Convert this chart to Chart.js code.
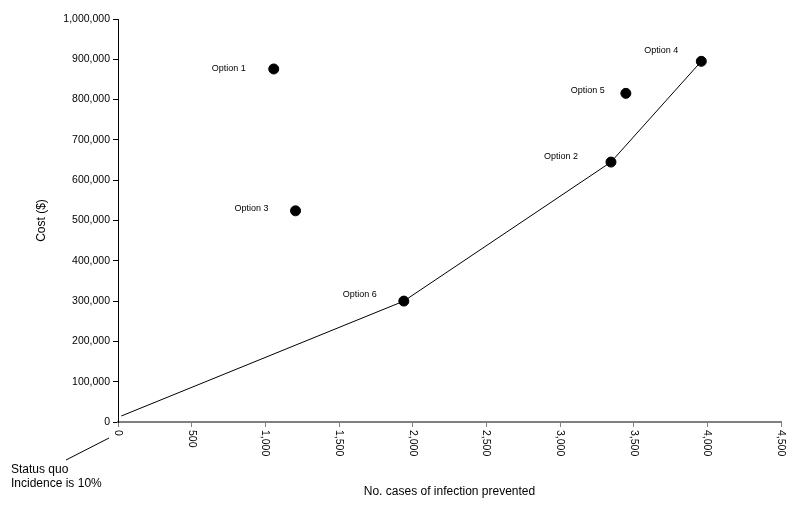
<!DOCTYPE html>
<html>
<head>
<meta charset="utf-8">
<script src="https://cdn.jsdelivr.net/npm/chart.js@4.4.1/dist/chart.umd.min.js"></script>
<style>
  html, body { margin: 0; padding: 0; background: #fff; }
  canvas { display: block; }
</style>
</head>
<body>
<canvas id="ceChart" width="800" height="510"></canvas>
<script>
// Opciones evaluadas: casos prevenidos vs coste
const optionLabels = ['Option 1', 'Option 2', 'Option 3', 'Option 4', 'Option 5', 'Option 6'];
const casesPrevented = [1057, 3346, 1205, 3959, 3447, 1940];
const costs = [876000, 645000, 524000, 895000, 815500, 300000];

// Frontera: status quo -> opción 6 -> opción 2 -> opción 4
const frontierCases = [23, 1940, 3346, 3959];
const frontierCosts = [15000, 300000, 645000, 895000];

const xTicks = [0, 500, 1000, 1500, 2000, 2500, 3000, 3500, 4000, 4500];
const yTicks = [0, 100000, 200000, 300000, 400000, 500000, 600000, 700000, 800000, 900000, 1000000];

// desplazamiento de cada etiqueta respecto a su punto (px)
const labelOffsets = [[-28, 0], [-33, -6], [-27, -2], [-23, -11], [-21, -3], [-27, -7]];

const FONT = 'Arial, "Liberation Sans", sans-serif';

const annotate = {
    id: 'annotate',
    afterDraw(chart) {
        const ctx = chart.ctx;
        const xs = chart.scales.x;
        const ys = chart.scales.y;
        ctx.save();
        ctx.fillStyle = '#000';

        // etiquetas del eje x giradas en sentido horario
        ctx.font = '10.5px ' + FONT;
        ctx.textAlign = 'left';
        ctx.textBaseline = 'middle';
        xTicks.forEach(v => {
            ctx.save();
            ctx.translate(xs.getPixelForValue(v), chart.chartArea.bottom + 8);
            ctx.rotate(Math.PI / 2);
            ctx.fillText(v.toLocaleString('en-US'), 0, 0);
            ctx.restore();
        });

        // nombres de las opciones
        ctx.font = '9px ' + FONT;
        ctx.textAlign = 'right';
        optionLabels.forEach((lbl, i) => {
            const px = xs.getPixelForValue(casesPrevented[i]);
            const py = ys.getPixelForValue(costs[i]);
            ctx.fillText(lbl, px + labelOffsets[i][0], py + labelOffsets[i][1]);
        });

        // nota del status quo
        const ox = xs.getPixelForValue(0);
        const oy = ys.getPixelForValue(0);
        ctx.strokeStyle = '#000';
        ctx.lineWidth = 1;
        ctx.beginPath();
        ctx.moveTo(ox - 9, oy + 16);
        ctx.lineTo(ox - 52, oy + 38);
        ctx.stroke();
        ctx.font = '12px ' + FONT;
        ctx.textAlign = 'left';
        ctx.fillText('Status quo', ox - 107, oy + 48);
        ctx.fillText('Incidence is 10%', ox - 107, oy + 62);
        ctx.restore();
    }
};

const ctx = document.getElementById('ceChart').getContext('2d');
new Chart(ctx, {
    type: 'scatter',
    data: {
        datasets: [
            {
                label: 'Options',
                data: casesPrevented.map((x, i) => ({ x: x, y: costs[i] })),
                backgroundColor: '#000',
                borderColor: '#000',
                pointRadius: 5,
                showLine: false
            },
            {
                label: 'Frontier',
                data: frontierCases.map((x, i) => ({ x: x, y: frontierCosts[i] })),
                borderColor: '#000',
                borderWidth: 1,
                pointRadius: 0,
                showLine: true,
                fill: false
            }
        ]
    },
    options: {
        responsive: false,
        animation: false,
        layout: { padding: { top: 19, right: 19, left: 0, bottom: 0 } },
        plugins: { legend: { display: false }, tooltip: { enabled: false } },
        scales: {
            x: {
                type: 'linear',
                position: 'bottom',
                min: xTicks[0],
                max: xTicks[xTicks.length - 1],
                ticks: { stepSize: 500, display: false },
                grid: { drawOnChartArea: false, drawTicks: true, tickLength: 5, color: '#808080', tickColor: '#808080' },
                border: { color: '#808080', width: 2 },
                title: {
                    display: true,
                    text: 'No. cases of infection prevented',
                    color: '#000',
                    font: { family: FONT, size: 12 },
                    padding: { top: 0, bottom: 11 }
                },
                afterFit(scale) { scale.height = 88; }
            },
            y: {
                type: 'linear',
                min: yTicks[0],
                max: yTicks[yTicks.length - 1],
                ticks: {
                    stepSize: 100000,
                    color: '#000',
                    padding: 3,
                    font: { family: FONT, size: 10.5 },
                    callback: v => v.toLocaleString('en-US')
                },
                grid: { drawOnChartArea: false, drawTicks: true, tickLength: 5, color: '#000', tickColor: '#000' },
                border: { color: '#000', width: 1 },
                title: {
                    display: true,
                    text: 'Cost ($)',
                    color: '#000',
                    font: { family: FONT, size: 12 },
                    padding: { top: 34, bottom: 0 }
                },
                afterFit(scale) { scale.width = 118; }
            }
        }
    },
    plugins: [annotate]
});
</script>
</body>
</html>
